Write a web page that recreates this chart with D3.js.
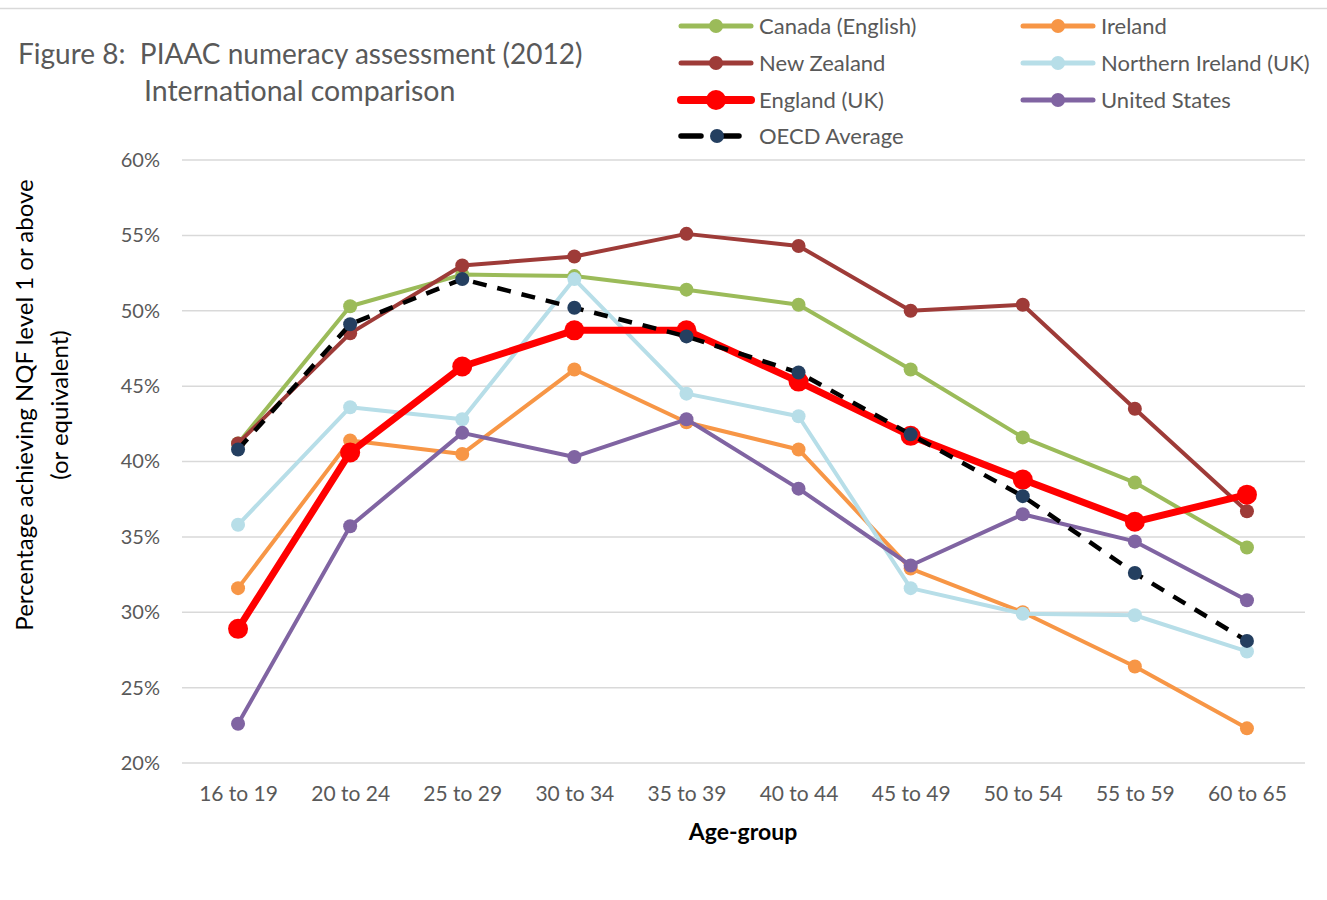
<!DOCTYPE html>
<html>
<head>
<meta charset="utf-8">
<script src="https://cdn.jsdelivr.net/npm/d3@7"></script>
<style>
  body { margin: 0; background: #fff; }
  text { font-family: Lato, "Open Sans", sans-serif; fill: #595959; white-space: pre; }
</style>
</head>
<body>
<script>
// age groups on the x axis
const ageGroups = ['16 to 19', '20 to 24', '25 to 29', '30 to 34', '35 to 39',
  '40 to 44', '45 to 49', '50 to 54', '55 to 59', '60 to 65'];

// percentage achieving level 1 or above
const canada = [41.2, 50.3, 52.4, 52.3, 51.4, 50.4, 46.1, 41.6, 38.6, 34.3];
const ireland = [31.6, 41.4, 40.5, 46.1, 42.6, 40.8, 32.9, 30.0, 26.4, 22.3];
const newZealand = [41.2, 48.5, 53.0, 53.6, 55.1, 54.3, 50.0, 50.4, 43.5, 36.7];
const northernIreland = [35.8, 43.6, 42.8, 52.1, 44.5, 43.0, 31.6, 29.9, 29.8, 27.4];
const england = [28.9, 40.6, 46.3, 48.7, 48.7, 45.3, 41.7, 38.8, 36.0, 37.8];
const unitedStates = [22.6, 35.7, 41.9, 40.3, 42.8, 38.2, 33.1, 36.5, 34.7, 30.8];
const oecd = [40.8, 49.1, 52.1, 50.2, 48.3, 45.9, 41.8, 37.7, 32.6, 28.1];

const yTicks = [20, 25, 30, 35, 40, 45, 50, 55, 60];

// series in drawing order (same as the legend, row by row)
const series = [
  { name: 'Canada (English)', values: canada, color: '#9BBB59', width: 4, r: 7 },
  { name: 'Ireland', values: ireland, color: '#F79646', width: 4, r: 7 },
  { name: 'New Zealand', values: newZealand, color: '#9E3B38', width: 4, r: 7 },
  { name: 'Northern Ireland (UK)', values: northernIreland, color: '#B7DEE8', width: 4, r: 7 },
  { name: 'England (UK)', values: england, color: '#FF0000', width: 7, r: 10 },
  { name: 'United States', values: unitedStates, color: '#8064A2', width: 4, r: 7 },
  { name: 'OECD Average', values: oecd, color: '#000000', marker: '#243F60', width: 4.5, r: 7, dash: '14,11' }
];

const width = 1327, height = 900;

const svg = d3.select('body')
  .append('svg')
  .attr('width', width)
  .attr('height', height);

// scales
const xScale = d3.scalePoint()
  .domain(ageGroups)
  .range([182, 1303])
  .padding(0.5);

const yScale = d3.scaleLinear()
  .domain([20, 60])
  .range([763, 160]);

// thin rule across the top
svg.append('line')
  .attr('x1', 0).attr('x2', width)
  .attr('y1', 8.5).attr('y2', 8.5)
  .attr('stroke', '#d9d9d9')
  .attr('stroke-width', 1.5);

// gridlines
svg.append('g')
  .selectAll('line')
  .data(yTicks)
  .join('line')
  .attr('x1', 182)
  .attr('x2', 1305)
  .attr('y1', d => yScale(d))
  .attr('y2', d => yScale(d))
  .attr('stroke', '#d9d9d9')
  .attr('stroke-width', 1.5);

// y axis labels
const yAxis = d3.axisLeft(yScale)
  .tickValues(yTicks)
  .tickFormat(d => d + '%')
  .tickSize(0)
  .tickPadding(22);

svg.append('g')
  .attr('transform', 'translate(182,0)')
  .call(yAxis)
  .call(g => g.select('.domain').remove())
  .selectAll('text')
  .style('font-size', '20px')
  .style('font-family', 'Lato, sans-serif')
  .attr('fill', '#595959');

// x axis labels
const xAxis = d3.axisBottom(xScale).tickSize(0).tickPadding(23);

svg.append('g')
  .attr('transform', 'translate(0,763)')
  .call(xAxis)
  .call(g => g.select('.domain').remove())
  .selectAll('text')
  .style('font-size', '21px')
  .style('font-family', 'Lato, sans-serif')
  .attr('fill', '#595959');

// lines and markers
const line = d3.line()
  .x((d, i) => xScale(ageGroups[i]))
  .y(d => yScale(d));

series.forEach(s => {
  const g = svg.append('g');
  g.append('path')
    .datum(s.values)
    .attr('d', line)
    .attr('fill', 'none')
    .attr('stroke', s.color)
    .attr('stroke-width', s.width)
    .attr('stroke-linejoin', 'round')
    .attr('stroke-dasharray', s.dash || null);
  g.selectAll('circle')
    .data(s.values)
    .join('circle')
    .attr('cx', (d, i) => xScale(ageGroups[i]))
    .attr('cy', d => yScale(d))
    .attr('r', s.r)
    .attr('fill', s.marker || s.color);
});

// legend
const legendCols = [677, 1019];
const legendRows = [26, 63, 100, 136];
const legend = svg.append('g');
series.forEach((s, i) => {
  const x = legendCols[i % 2];
  const y = legendRows[Math.floor(i / 2)];
  const g = legend.append('g').attr('transform', `translate(${x},${y})`);
  g.append('line')
    .attr('x1', 4).attr('x2', 74)
    .attr('stroke', s.color)
    .attr('stroke-width', s.width + 1)
    .attr('stroke-linecap', 'round')
    .attr('stroke-dasharray', s.dash ? '20,18' : null);
  g.append('circle')
    .attr('cx', s.dash ? 40 : 39)
    .attr('r', s.r)
    .attr('fill', s.marker || s.color);
  g.append('text')
    .attr('x', 82)
    .attr('dy', '0.35em')
    .style('font-size', '22px')
    .text(s.name);
});

// title
svg.append('text')
  .attr('x', 18).attr('y', 64)
  .style('font-size', '28px')
  .text('Figure 8:  PIAAC numeracy assessment (2012)');
svg.append('text')
  .attr('x', 144).attr('y', 101)
  .style('font-size', '28.5px')
  .text('International comparison');

// axis titles
svg.append('text')
  .attr('x', 743).attr('y', 840)
  .attr('text-anchor', 'middle')
  .style('font-size', '23px')
  .style('font-weight', 'bold')
  .style('fill', '#000')
  .text('Age-group');

const yTitle = svg.append('text')
  .attr('transform', 'translate(33,405) rotate(-90)')
  .attr('text-anchor', 'middle')
  .style('font-size', '24px')
  .style('fill', '#000');
yTitle.append('tspan').attr('x', 0).attr('dy', 0).text('Percentage achieving NQF level 1 or above');
yTitle.append('tspan').attr('x', 0).attr('dy', 35).text('(or equivalent)');
</script>
</body>
</html>
